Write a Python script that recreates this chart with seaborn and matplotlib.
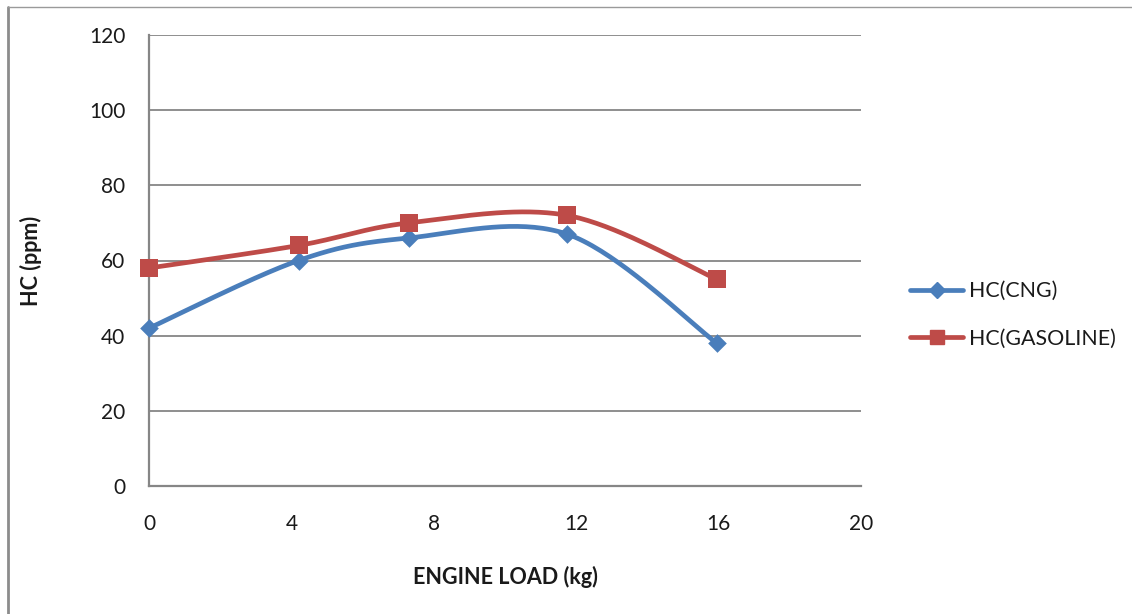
import numpy as np
import pandas as pd
import matplotlib
matplotlib.use("Agg")
import matplotlib.pyplot as plt
from matplotlib.lines import Line2D
import seaborn as sns

# Measured hydrocarbon emissions against engine load
engine_load = [0.0, 4.2, 7.3, 11.75, 15.95]
hc_cng = [42, 60, 66, 67, 38]
hc_gasoline = [58, 64, 70, 72, 55]
series_names = ["HC(CNG)", "HC(GASOLINE)"]
x_ticks = [0, 4, 8, 12, 16, 20]
y_ticks = [0, 20, 40, 60, 80, 100, 120]

BLUE = "#4A7EBB"
RED = "#BE4B48"
GRID = "#868686"
TEXT = "#1a1a1a"

W, H = 1132, 614
AX_L, AX_R, AX_T, AX_B = 149, 861, 35, 486


def smooth_curve(xs, ys, steps=40):
    """Cubic Bezier smoothing through the points (Catmull-Rom style)."""
    p = np.column_stack([xs, ys]).astype(float)
    p_ext = np.vstack([p[0], p, p[-1]])
    out = []
    for i in range(1, len(p_ext) - 2):
        p0, p1, p2, p3 = p_ext[i - 1], p_ext[i], p_ext[i + 1], p_ext[i + 2]
        c1 = p1 + (p2 - p0) / 6.0
        c2 = p2 - (p3 - p1) / 6.0
        t = np.linspace(0, 1, steps)[:, None]
        seg = ((1 - t) ** 3) * p1 + 3 * ((1 - t) ** 2) * t * c1 \
            + 3 * (1 - t) * t ** 2 * c2 + t ** 3 * p2
        out.append(seg if i == 1 else seg[1:])
    out = np.vstack(out)
    return out[:, 0], out[:, 1]


sns.set_theme(style="white")
plt.rcParams["font.family"] = ["Lato", "DejaVu Sans"]

fig = plt.figure(figsize=(W / 100, H / 100), dpi=100)
ax = fig.add_axes([AX_L / W, 1 - AX_B / H, (AX_R - AX_L) / W, (AX_B - AX_T) / H])

points = pd.DataFrame({
    "load": engine_load * 2,
    "hc": hc_cng + hc_gasoline,
    "series": [series_names[0]] * len(engine_load) + [series_names[1]] * len(engine_load),
})

styles = {series_names[0]: (BLUE, "D", 9.5), series_names[1]: (RED, "s", 13)}
for name, ys in zip(series_names, [hc_cng, hc_gasoline]):
    cx, cy = smooth_curve(engine_load, ys)
    curve = pd.DataFrame({"load": cx, "hc": cy})
    color, marker, msize = styles[name]
    sns.lineplot(data=curve, x="load", y="hc", sort=False, ax=ax,
                 color=color, linewidth=3.4, zorder=3)
    sub = points[points["series"] == name]
    sns.scatterplot(data=sub, x="load", y="hc", ax=ax, marker=marker,
                    color=color, s=msize ** 2, edgecolor=color, linewidth=0,
                    zorder=4, clip_on=False)

ax.set_xlim(0, 20)
ax.set_ylim(0, 120)
ax.set_xticks(x_ticks)
ax.set_yticks(y_ticks)
ax.set_xticklabels([str(v) for v in x_ticks], fontsize=15, color=TEXT)
ax.set_yticklabels([str(v) for v in y_ticks], fontsize=15, color=TEXT)
ax.tick_params(axis="x", direction="out", length=5, width=1.3, color=GRID, pad=15)
ax.tick_params(axis="y", direction="out", length=5, width=1.3, color=GRID, pad=12)
ax.yaxis.grid(True, color=GRID, linewidth=1.3)
ax.xaxis.grid(False)
ax.set_axisbelow(True)
for side in ["top", "right"]:
    ax.spines[side].set_visible(False)
for side in ["left", "bottom"]:
    ax.spines[side].set_color(GRID)
    ax.spines[side].set_linewidth(1.6)

ax_w, ax_h = AX_R - AX_L, AX_B - AX_T
ax.set_xlabel("ENGINE LOAD (kg)", fontsize=15.5, fontweight="bold", color=TEXT)
ax.set_ylabel("HC (ppm)", fontsize=15.5, fontweight="bold", color=TEXT)
ax.xaxis.set_label_coords(0.5, -(577 - AX_B) / ax_h)
ax.xaxis.label.set_va("center")
ax.yaxis.set_label_coords(-(AX_L - 31) / ax_w, 0.5)
ax.yaxis.label.set_va("center")

handles = [
    Line2D([0], [0], color=BLUE, linewidth=3.4, marker="D", markersize=8),
    Line2D([0], [0], color=RED, linewidth=3.4, marker="s", markersize=10.5),
]
fig.legend(handles, series_names, loc="upper left",
           bbox_to_anchor=(910 / W, 1 - 281 / H), frameon=False,
           fontsize=15.4, handlelength=2.5, handletextpad=0.25,
           labelspacing=1.3, borderaxespad=0, borderpad=0,
           labelcolor=TEXT)

# chart frame edges
fig.add_artist(Line2D([8 / W, 8 / W], [0, 1 - 7 / H],
                      transform=fig.transFigure, color="#8c8c8c", linewidth=2))
fig.add_artist(Line2D([8 / W, 1], [1 - 7 / H, 1 - 7 / H],
                      transform=fig.transFigure, color="#9a9a9a", linewidth=1))

fig.savefig("out.png", dpi=100)
